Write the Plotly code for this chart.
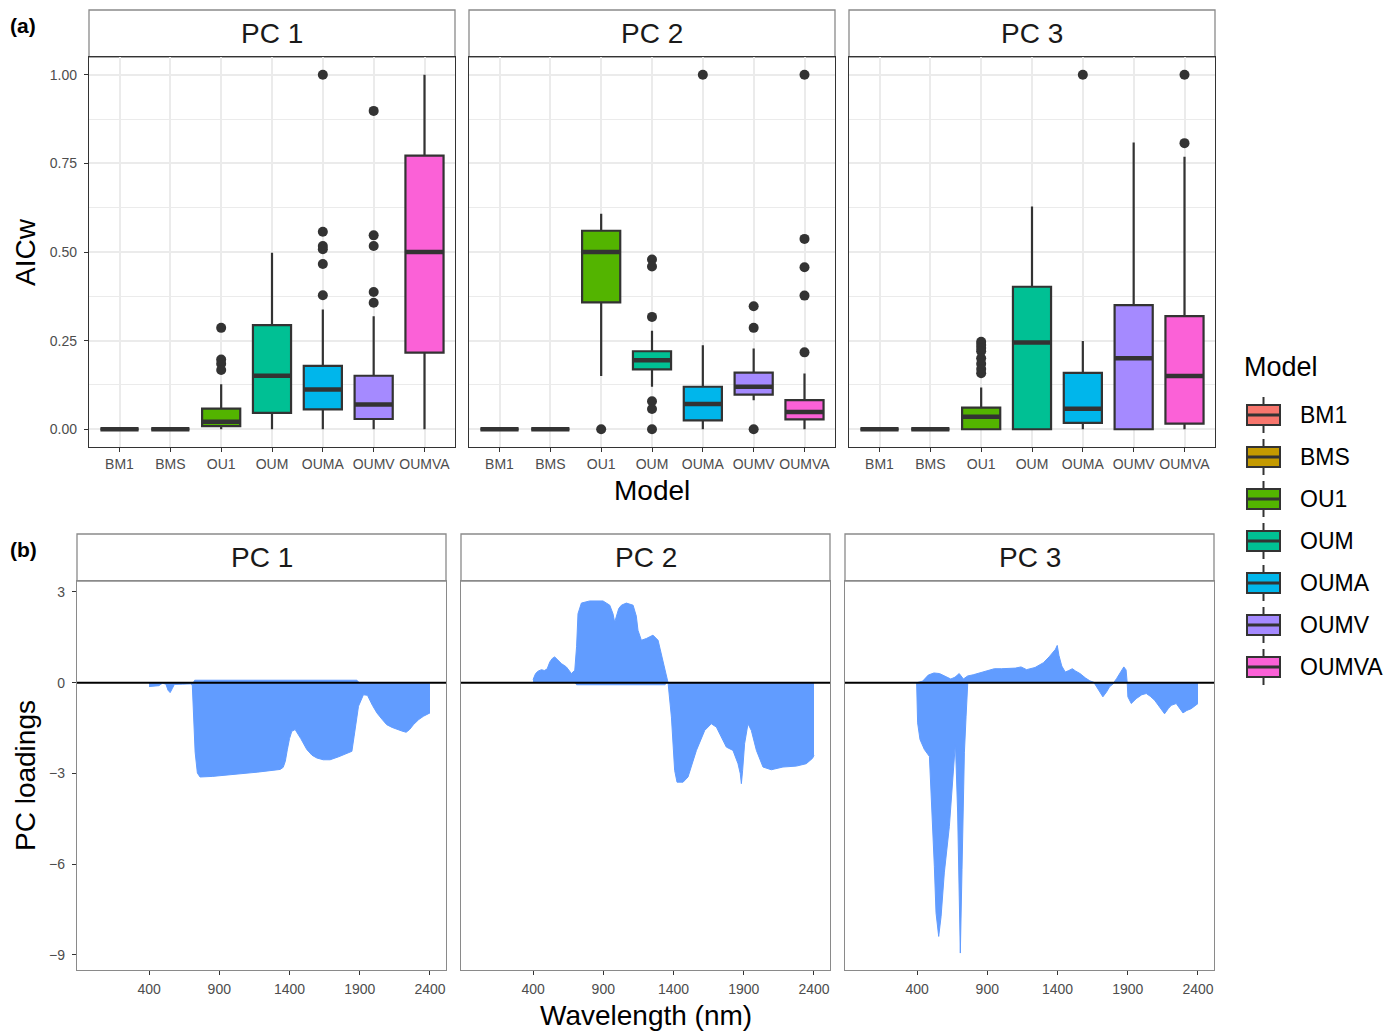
import plotly.graph_objects as go

W, H = 1400, 1032

# ---------------- data: panel (a) box-plot statistics ----------------
models = ["BM1", "BMS", "OU1", "OUM", "OUMA", "OUMV", "OUMVA"]
colors = ["#F8766D", "#C49A00", "#53B400", "#00C094", "#00B6EB", "#A58AFF", "#FB61D7"]
panels = ["PC 1", "PC 2", "PC 3"]
positions = [1, 2, 3, 4, 5, 6, 7]
aicw_ticks = [0, 0.25, 0.5, 0.75, 1.0]
aicw_ticktext = ["0.00", "0.25", "0.50", "0.75", "1.00"]

pc1_q1 = [0, 0, 0.009, 0.046, 0.056, 0.029, 0.216]
pc1_median = [0, 0, 0.021, 0.151, 0.112, 0.070, 0.500]
pc1_q3 = [0, 0, 0.058, 0.294, 0.179, 0.151, 0.772]
pc1_lower = [0, 0, 0, 0, 0, 0, 0]
pc1_upper = [0, 0, 0.127, 0.498, 0.338, 0.319, 1.0]
pc1_outliers = [[], [], [0.286, 0.197, 0.185, 0.167], [],
                [1.0, 0.557, 0.517, 0.508, 0.466, 0.378],
                [0.898, 0.547, 0.517, 0.387, 0.357], []]

pc2_q1 = [0, 0, 0.358, 0.169, 0.025, 0.098, 0.028]
pc2_median = [0, 0, 0.500, 0.195, 0.071, 0.120, 0.049]
pc2_q3 = [0, 0, 0.560, 0.220, 0.120, 0.160, 0.082]
pc2_lower = [0, 0, 0.150, 0.120, 0, 0.082, 0]
pc2_upper = [0, 0, 0.608, 0.278, 0.237, 0.228, 0.157]
pc2_outliers = [[], [], [0.0], [0.479, 0.459, 0.317, 0.079, 0.057, 0.0], [1.0],
                [0.347, 0.286, 0.0], [1.0, 0.537, 0.457, 0.377, 0.217]]

pc3_q1 = [0, 0, 0, 0, 0.018, 0, 0.016]
pc3_median = [0, 0, 0.035, 0.245, 0.058, 0.200, 0.150]
pc3_q3 = [0, 0, 0.061, 0.402, 0.159, 0.350, 0.319]
pc3_lower = [0, 0, 0, 0, 0, 0, 0]
pc3_upper = [0, 0, 0.118, 0.628, 0.249, 0.809, 0.769]
pc3_outliers = [[], [], [0.247, 0.238, 0.229, 0.220, 0.200, 0.185, 0.170, 0.158], [],
                [1.0], [], [1.0, 0.807]]

# ---------------- data: panel (b) PC loadings ----------------
wl_ticks = [400, 900, 1400, 1900, 2400]
load_ticks = [3, 0, -3, -6, -9]
load_ticktext = ["3", "0", "\u22123", "\u22126", "\u22129"]

pc1_wl = [400, 470, 495, 520, 535, 550, 565, 580, 640, 700, 708, 716, 728, 744, 763,
          850, 930, 1050, 1170, 1260, 1333, 1355, 1370, 1385, 1400, 1416, 1440, 1480,
          1523, 1560, 1594, 1640, 1689, 1750, 1808, 1844, 1860, 1875, 1891, 1926, 1955,
          1990, 2022, 2060, 2092, 2130, 2164, 2200, 2230, 2255, 2282, 2320, 2354, 2400]
pc1_val = [-0.13, -0.10, -0.02, -0.05, -0.25, -0.33, -0.20, -0.06, -0.05, -0.04, -0.10,
           -0.90, -2.30, -2.99, -3.12, -3.10, -3.07, -3.02, -2.96, -2.91, -2.87, -2.80,
           -2.60, -2.20, -1.85, -1.61, -1.55, -1.85, -2.21, -2.40, -2.49, -2.55, -2.55,
           -2.45, -2.33, -2.27, -1.77, -1.20, -0.78, -0.40, -0.42, -0.75, -1.00, -1.22,
           -1.39, -1.48, -1.55, -1.60, -1.64, -1.55, -1.39, -1.22, -1.11, -1.00]
pc1_pos_wl = [715, 725, 1880, 1895]
pc1_pos_val = [0, 0.08, 0.08, 0]

pc2_wl = [400, 418, 436, 460, 480, 500, 519, 537, 554, 578, 602, 637, 673, 697, 710,
          720, 744, 803, 898, 946, 969, 981, 993, 1010, 1029, 1064, 1112, 1135, 1147,
          1171, 1207, 1254, 1290, 1313, 1337, 1361, 1385, 1408, 1425, 1468, 1503, 1530,
          1563, 1622, 1669, 1705, 1740, 1776, 1823, 1859, 1875, 1883, 1892, 1906, 1930,
          1954, 1990, 2037, 2096, 2179, 2274, 2345, 2390, 2400]
pc2_val = [0.10, 0.30, 0.38, 0.43, 0.40, 0.45, 0.68, 0.80, 0.85, 0.75, 0.63, 0.52, 0.30,
           0.41, 1.20, 2.28, 2.63, 2.70, 2.70, 2.56, 2.28, 2.00, 2.17, 2.45, 2.56, 2.63,
           2.56, 2.20, 1.73, 1.40, 1.46, 1.57, 1.40, 0.96, 0.41, 0.0, -1.14, -2.90, -3.29,
           -3.29, -3.12, -2.70, -2.24, -1.58, -1.36, -1.47, -1.80, -2.13, -2.24, -2.68,
           -3.00, -3.34, -2.90, -2.02, -1.36, -1.58, -2.24, -2.79, -2.88, -2.79, -2.76,
           -2.68, -2.50, -2.40]
pc2_neg_wl = [700, 710, 1340, 1350]
pc2_neg_val = [0, -0.07, -0.07, 0]

pc3_neg_wl = [397, 404, 421, 452, 488, 500, 511, 523, 535, 554, 571, 594, 630, 654, 673,
              689, 701, 708, 720, 737, 749, 761, 1660, 1700, 1723, 1750, 1770, 1806, 1896,
              1901, 1925, 1960, 2000, 2032, 2060, 2091, 2130, 2162, 2190, 2210, 2245, 2270,
              2293, 2320, 2352, 2400]
pc3_neg_val = [0, -1.33, -1.88, -2.21, -2.44, -3.54, -4.64, -6.07, -7.61, -8.39, -7.73,
               -6.29, -4.75, -3.21, -1.99, -4.31, -7.40, -8.94, -6.18, -2.32, -1.11, 0, 0,
               -0.30, -0.47, -0.30, -0.14, 0, 0, -0.47, -0.69, -0.53, -0.40, -0.36, -0.45,
               -0.58, -0.85, -1.03, -0.85, -0.75, -0.69, -0.85, -1.00, -0.92, -0.86, -0.69]
pc3_pos_wl = [400, 440, 480, 520, 560, 600, 640, 670, 700, 730, 760, 800, 850, 900, 950,
              1000, 1050, 1100, 1140, 1180, 1240, 1300, 1340, 1370, 1385, 1398, 1410, 1430,
              1455, 1480, 1505, 1530, 1560, 1600, 1630, 1665, 1800, 1820, 1850, 1872, 1888,
              1896]
pc3_pos_val = [0, 0.05, 0.25, 0.32, 0.30, 0.22, 0.12, 0.18, 0.30, 0.12, 0.22, 0.26, 0.32,
               0.40, 0.46, 0.46, 0.47, 0.48, 0.52, 0.43, 0.50, 0.66, 0.85, 1.00, 1.10, 1.23,
               0.90, 0.55, 0.35, 0.40, 0.46, 0.38, 0.30, 0.15, 0.06, 0, 0, 0.13, 0.33, 0.52,
               0.42, 0]

box_stats = [
    dict(q1=pc1_q1, med=pc1_median, q3=pc1_q3, lo=pc1_lower, hi=pc1_upper, out=pc1_outliers),
    dict(q1=pc2_q1, med=pc2_median, q3=pc2_q3, lo=pc2_lower, hi=pc2_upper, out=pc2_outliers),
    dict(q1=pc3_q1, med=pc3_median, q3=pc3_q3, lo=pc3_lower, hi=pc3_upper, out=pc3_outliers),
]
loading_series = [
    [(pc1_wl, pc1_val), (pc1_pos_wl, pc1_pos_val)],
    [(pc2_wl, pc2_val), (pc2_neg_wl, pc2_neg_val)],
    [(pc3_neg_wl, pc3_neg_val), (pc3_pos_wl, pc3_pos_val)],
]

FONT = "Liberation Sans, Arial, Helvetica, sans-serif"
DARK = "#333333"
TICKCOL = "#4d4d4d"
BLUE = "#619CFF"
BOXW = 0.75

fig = go.Figure()

# ---------------- (a) box plots ----------------
for p in range(3):
    suf = "" if p == 0 else str(p + 1)
    xa, ya = "x" + suf, "y" + suf
    st = box_stats[p]
    for i, m in enumerate(models):
        fig.add_trace(go.Box(
            x=[positions[i]], q1=[st["q1"][i]], median=[st["med"][i]], q3=[st["q3"][i]],
            lowerfence=[st["lo"][i]], upperfence=[st["hi"][i]],
            width=BOXW, fillcolor=colors[i], line=dict(color=DARK, width=2.2),
            whiskerwidth=0, boxpoints=False, name=m, legendgroup=m,
            showlegend=False, xaxis=xa, yaxis=ya, hoverinfo="skip"))
    mx, my = [], []
    for i in range(len(models)):
        mx += [positions[i] - BOXW / 2, positions[i] + BOXW / 2, None]
        my += [st["med"][i], st["med"][i], None]
    fig.add_trace(go.Scatter(x=mx, y=my, mode="lines", line=dict(color=DARK, width=4.5),
                             showlegend=False, xaxis=xa, yaxis=ya, hoverinfo="skip"))
    ox, oy = [], []
    for i in range(len(models)):
        ox += [positions[i]] * len(st["out"][i])
        oy += st["out"][i]
    fig.add_trace(go.Scatter(x=ox, y=oy, mode="markers",
                             marker=dict(color=DARK, size=10, line=dict(width=0)),
                             showlegend=False, xaxis=xa, yaxis=ya, hoverinfo="skip"))

# ---------------- (b) loadings ----------------
for p in range(3):
    xa, ya = "x" + str(p + 4), "y" + str(p + 4)
    for wl, v in loading_series[p]:
        fig.add_trace(go.Scatter(x=wl, y=v, mode="lines", line=dict(color=BLUE, width=1),
                                 fill="tozeroy", fillcolor=BLUE, showlegend=False,
                                 xaxis=xa, yaxis=ya, hoverinfo="skip"))

def px_x(a, b):
    return [a / W, b / W]

def px_y(top, bottom):
    return [1 - bottom / H, 1 - top / H]

top_x = [(89, 455), (469, 835), (849, 1215)]
bot_x = [(77, 446), (461, 830), (845, 1214)]
top_y = (57, 447)
bot_y = (581, 970)
top_strip = (10, 57)
bot_strip = (534, 581)

layout = dict(
    width=W, height=H, autosize=False,
    margin=dict(l=0, r=0, t=0, b=0),
    paper_bgcolor="white", plot_bgcolor="white",
    font=dict(family=FONT, color="black"),
    showlegend=False,
)

shapes = []
annotations = []
for p in range(3):
    suf = "" if p == 0 else str(p + 1)
    layout["xaxis" + suf] = dict(
        domain=px_x(*top_x[p]), anchor="y" + suf, range=[0.4, 7.6],
        tickvals=positions, ticktext=models, ticks="outside", ticklen=4,
        tickwidth=1.3, tickcolor=DARK, tickfont=dict(size=14, color=TICKCOL),
        showgrid=True, gridcolor="#ebebeb", gridwidth=1.5, zeroline=False,
        showline=True, mirror=True, linecolor=DARK, linewidth=1.3)
    layout["yaxis" + suf] = dict(
        domain=px_y(*top_y), anchor="x" + suf, range=[-0.05, 1.05],
        tickvals=aicw_ticks, ticktext=aicw_ticktext,
        ticks="outside" if p == 0 else "", ticklen=4, tickwidth=1.3, tickcolor=DARK,
        showticklabels=(p == 0), tickfont=dict(size=14, color=TICKCOL),
        ticklabelstandoff=4,
        showgrid=True, gridcolor="#ebebeb", gridwidth=1.5, zeroline=False,
        minor=dict(tickvals=[0.125, 0.375, 0.625, 0.875], showgrid=True,
                   gridcolor="#ebebeb", gridwidth=0.8, ticks=""),
        showline=True, mirror=True, linecolor=DARK, linewidth=1.3)
    b = str(p + 4)
    layout["xaxis" + b] = dict(
        domain=px_x(*bot_x[p]), anchor="y" + b, range=[-113, 2514],
        tickvals=wl_ticks, ticks="outside", ticklen=4, tickwidth=1.3, tickcolor=DARK,
        tickfont=dict(size=14, color=TICKCOL), showgrid=False, zeroline=False,
        ticklabelstandoff=2,
        showline=True, mirror=True, linecolor="#8a8a8a", linewidth=1.3)
    layout["yaxis" + b] = dict(
        domain=px_y(*bot_y), anchor="x" + b, range=[-9.5, 3.36],
        tickvals=load_ticks, ticktext=load_ticktext,
        ticks="outside" if p == 0 else "", ticklen=4, tickwidth=1.3, tickcolor=DARK,
        showticklabels=(p == 0), tickfont=dict(size=14, color=TICKCOL),
        ticklabelstandoff=4,
        showgrid=False, zeroline=False,
        showline=True, mirror=True, linecolor="#8a8a8a", linewidth=1.3)

    # strips
    for (xd, (s0, s1)) in [(top_x[p], top_strip), (bot_x[p], bot_strip)]:
        shapes.append(dict(type="rect", xref="paper", yref="paper",
                           x0=xd[0] / W, x1=xd[1] / W, y0=1 - s1 / H, y1=1 - s0 / H,
                           fillcolor="white", line=dict(color="#8a8a8a", width=1.3),
                           layer="below"))
        annotations.append(dict(text=panels[p], xref="paper", yref="paper",
                                x=(xd[0] + xd[1]) / 2 / W, y=1 - (s0 + s1) / 2 / H,
                                showarrow=False, font=dict(size=28, color="#1a1a1a"),
                                xanchor="center", yanchor="middle"))
    # zero reference line
    shapes.append(dict(type="line", xref="x" + b + " domain", x0=0, x1=1,
                       yref="y" + b, y0=0, y1=0, line=dict(color="black", width=2),
                       layer="above"))

# ---------------- legend (drawn as ggplot-style boxplot keys) ----------------
LEG_X0, LEG_X1, LEG_XC = 1247, 1280, 1263.5
LEG_Y0, LEG_DY = 415, 42
annotations.append(dict(text="Model", xref="paper", yref="paper", x=1242 / W,
                        y=1 - 367 / H, xanchor="left", yanchor="middle",
                        showarrow=False, font=dict(size=27, color="black")))
for i, m in enumerate(models):
    cy = LEG_Y0 + LEG_DY * i
    shapes.append(dict(type="line", xref="paper", yref="paper",
                       x0=LEG_XC / W, x1=LEG_XC / W, y0=1 - (cy - 18) / H, y1=1 - (cy + 18) / H,
                       line=dict(color=DARK, width=2)))
    shapes.append(dict(type="rect", xref="paper", yref="paper",
                       x0=LEG_X0 / W, x1=LEG_X1 / W, y0=1 - (cy + 10) / H, y1=1 - (cy - 10) / H,
                       fillcolor=colors[i], line=dict(color=DARK, width=2)))
    shapes.append(dict(type="line", xref="paper", yref="paper",
                       x0=LEG_X0 / W, x1=LEG_X1 / W, y0=1 - cy / H, y1=1 - cy / H,
                       line=dict(color=DARK, width=3)))
    annotations.append(dict(text=m, xref="paper", yref="paper", x=1298 / W,
                            y=1 - cy / H, xanchor="left", yanchor="middle",
                            showarrow=False, font=dict(size=23, color="black")))

annotations += [
    dict(text="<b>(a)</b>", xref="paper", yref="paper", x=8 / W, y=1 - 25 / H,
         xanchor="left", yanchor="middle", showarrow=False, font=dict(size=21)),
    dict(text="<b>(b)</b>", xref="paper", yref="paper", x=8 / W, y=1 - 549 / H,
         xanchor="left", yanchor="middle", showarrow=False, font=dict(size=21)),
    dict(text="AICw", xref="paper", yref="paper", x=25 / W, y=1 - 252 / H,
         textangle=-90, showarrow=False, font=dict(size=28),
         xanchor="center", yanchor="middle"),
    dict(text="PC loadings", xref="paper", yref="paper", x=25 / W, y=1 - 776 / H,
         textangle=-90, showarrow=False, font=dict(size=28),
         xanchor="center", yanchor="middle"),
    dict(text="Model", xref="paper", yref="paper", x=652 / W, y=1 - 491 / H,
         showarrow=False, font=dict(size=28), xanchor="center", yanchor="middle"),
    dict(text="Wavelength (nm)", xref="paper", yref="paper", x=646 / W, y=1 - 1015 / H,
         showarrow=False, font=dict(size=28), xanchor="center", yanchor="middle"),
]
layout["shapes"] = shapes
layout["annotations"] = annotations
fig.update_layout(**layout)

fig.write_html("out.html")
